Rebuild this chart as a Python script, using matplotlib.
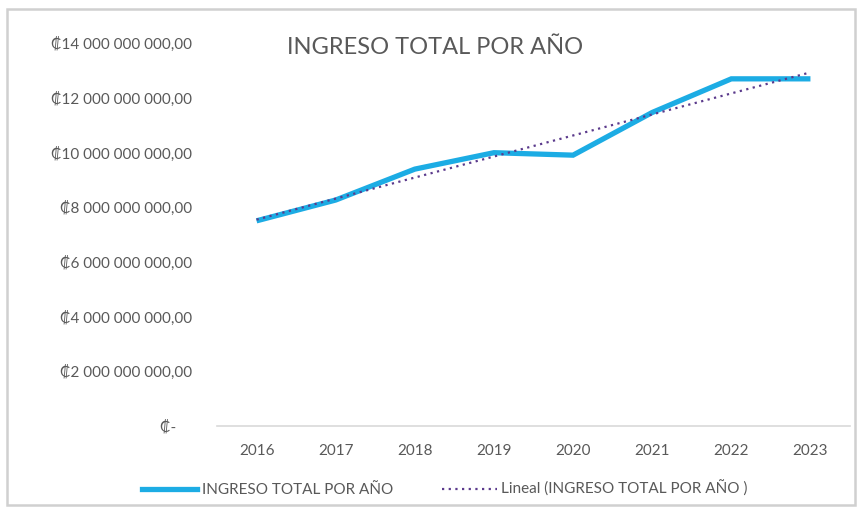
import matplotlib
matplotlib.use("Agg")
import matplotlib.pyplot as plt
import numpy as np
from matplotlib.patches import Rectangle
from matplotlib.lines import Line2D

years = ["2016", "2017", "2018", "2019", "2020", "2021", "2022", "2023"]
ingreso = [7.50e9, 8.26e9, 9.39e9, 9.99e9, 9.90e9, 11.46e9, 12.69e9, 12.69e9]
yticks = [0, 2e9, 4e9, 6e9, 8e9, 10e9, 12e9, 14e9]
ytick_labels = ["₡-    ", "₡2 000 000 000,00", "₡4 000 000 000,00", "₡6 000 000 000,00",
                "₡8 000 000 000,00", "₡10 000 000 000,00", "₡12 000 000 000,00",
                "₡14 000 000 000,00"]
title = "INGRESO TOTAL POR AÑO"
series_name = "INGRESO TOTAL POR AÑO"
trend_name = "Lineal (INGRESO TOTAL POR AÑO )"

plt.rcParams['font.family'] = ['Lato', 'DejaVu Sans']
txt = '#595959'

fig = plt.figure(figsize=(8.59, 5.12), dpi=100)
fig.patches.append(Rectangle((7/859, 7/512), 848/859, 496/512, transform=fig.transFigure,
                             fill=False, edgecolor='#D0D0D0', linewidth=1.8))

ax = fig.add_axes([217/859, 86/512, 633/859, 383/512])
x = np.arange(len(years))
ax.plot(x, ingreso, color='#1CACE4', linewidth=3.8, solid_capstyle='butt', solid_joinstyle='miter', zorder=3)
coef = np.polyfit(x, ingreso, 1)
ax.plot(x, np.polyval(coef, x), color='#5B3A8C', linewidth=1.6, linestyle=(0, (1, 2)), zorder=4)

ax.set_xlim(-0.5, len(years) - 0.5)
ax.set_ylim(0, 14e9)
ax.set_xticks(x)
ax.set_xticklabels(years, fontsize=11, color=txt)
ax.set_yticks(yticks)
ax.set_yticklabels(ytick_labels, fontsize=11, color=txt)
ax.tick_params(axis='both', length=0)
ax.tick_params(axis='y', pad=18)
ax.tick_params(axis='x', pad=13)
for s in ['top', 'right', 'left']:
    ax.spines[s].set_visible(False)
ax.spines['bottom'].set_color('#D9D9D9')
ax.spines['bottom'].set_linewidth(1.2)

fig.text(435/859, 1 - 47/512, title, fontsize=17, color=txt, ha='center', va='center')

handles = [Line2D([], [], color='#1CACE4', linewidth=3.8),
           Line2D([], [], color='#5B3A8C', linewidth=1.6, linestyle=(0, (1, 2)))]
fig.legend(handles, [series_name, trend_name], loc='center', bbox_to_anchor=(445/859, 1 - 489/512),
           ncol=2, frameon=False, fontsize=11, labelcolor=txt, handlelength=3.6, handletextpad=0.3,
           columnspacing=3.2)

fig.savefig("out.png", dpi=100)
